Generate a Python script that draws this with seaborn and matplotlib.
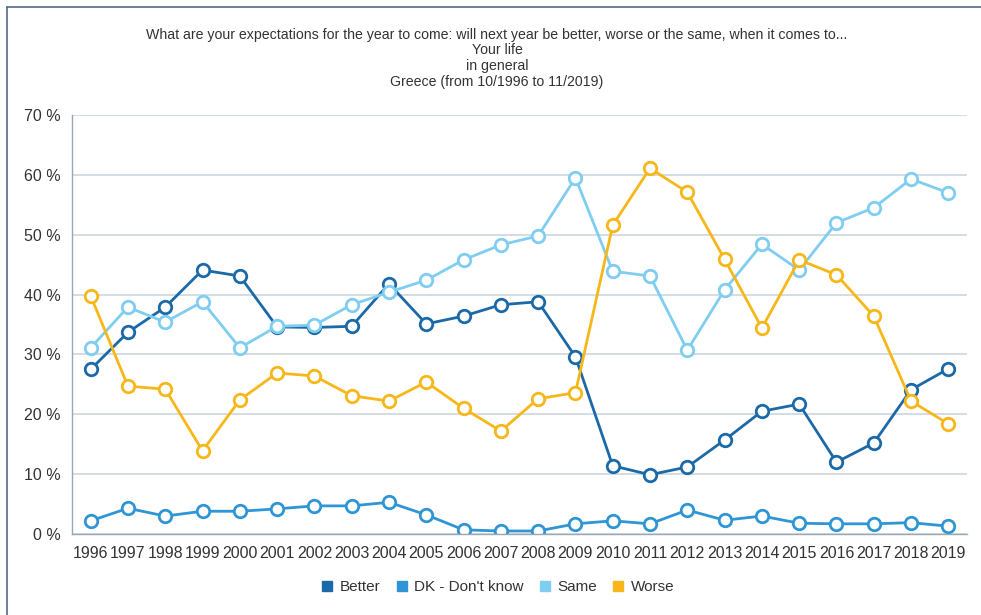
import matplotlib
matplotlib.use("Agg")
import matplotlib.pyplot as plt
from matplotlib.lines import Line2D
import seaborn as sns
import pandas as pd
import numpy as np

years = [str(y) for y in range(1996, 2020)]
better = [27.5, 33.7, 37.9, 44.1, 43.1, 34.6, 34.5, 34.7, 41.8, 35.1, 36.4, 38.3,
          38.8, 29.6, 11.4, 9.9, 11.2, 15.7, 20.5, 21.7, 12.0, 15.2, 24.1, 27.6]
dk = [2.2, 4.3, 3.0, 3.8, 3.8, 4.2, 4.7, 4.7, 5.3, 3.2, 0.7, 0.5,
      0.5, 1.7, 2.2, 1.7, 4.0, 2.3, 3.0, 1.8, 1.7, 1.7, 1.9, 1.3]
same = [31.1, 37.9, 35.4, 38.8, 31.1, 34.7, 34.9, 38.3, 40.4, 42.4, 45.8, 48.3,
        49.8, 59.5, 43.9, 43.1, 30.7, 40.8, 48.4, 44.1, 52.0, 54.5, 59.3, 57.0]
worse = [39.8, 24.7, 24.2, 13.9, 22.4, 26.9, 26.4, 23.1, 22.2, 25.4, 21.0, 17.2,
         22.6, 23.6, 51.6, 61.1, 57.1, 45.9, 34.4, 45.8, 43.3, 36.4, 22.2, 18.4]
series_names = ["Better", "DK - Don't know", "Same", "Worse"]
colors = ["#1b69a6", "#2f95d4", "#7fcdf0", "#f8b719"]
y_ticks = [0, 10, 20, 30, 40, 50, 60, 70]
title_lines = ["What are your expectations for the year to come: will next year be better, worse or the same, when it comes to...",
               "Your life", "in general", "Greece (from 10/1996 to 11/2019)"]

sns.set_theme(style="white")
plt.rcParams['font.family'] = ['Liberation Sans', 'DejaVu Sans']

rows = []
for name, vals in zip(series_names, [better, dk, same, worse]):
    for i, (yr, v) in enumerate(zip(years, vals)):
        rows.append({"pos": i, "year": yr, "value": v, "series": name})
df = pd.DataFrame(rows)

fig = plt.figure(figsize=(9.81, 6.15), dpi=100)
ax = fig.add_axes([72/981, 1-534/615, (967-72)/981, (534-115)/615])

palette = dict(zip(series_names, colors))
sns.lineplot(data=df, x="pos", y="value", hue="series", palette=palette, ax=ax,
             marker="o", markersize=9, markerfacecolor="white", markeredgewidth=2.0,
             linewidth=2.0, legend=False, sort=False)
for line in ax.get_lines():
    line.set_markeredgecolor(line.get_color())

ax.set_xlim(-0.5, len(years) - 0.5)
ax.set_ylim(0, 70)
ax.set_yticks(y_ticks)
ax.set_yticklabels([f"{t} %" for t in y_ticks], fontsize=11.5, color="#333333")
ax.set_xticks(range(len(years)))
ax.set_xticklabels(years, fontsize=11.5, color="#333333")
ax.set_xticks(np.arange(-0.5, len(years), 1.0), minor=True)
ax.tick_params(axis="x", which="major", length=0, pad=9)
ax.tick_params(axis="x", which="minor", length=5, color="#9aa8b4", width=1)
ax.tick_params(axis="y", which="major", length=5, color="#9aa8b4", pad=3)
ax.set_xlabel("")
ax.set_ylabel("")
ax.grid(axis="y", color="#cdd7df", linewidth=1.2)
ax.grid(axis="x", visible=False)
for s in ["top", "right"]:
    ax.spines[s].set_visible(False)
for s in ["left", "bottom"]:
    ax.spines[s].set_color("#9aa8b4")
    ax.spines[s].set_linewidth(1.0)

ys = [35, 50, 66, 82]
for t, yy in zip(title_lines, ys):
    fig.text(497/981, 1 - yy/615, t, ha="center", va="center", fontsize=10.2, color="#333333")

handles = [Line2D([0], [0], marker="s", linestyle="none", markersize=7.5,
                  markerfacecolor=c, markeredgecolor=c) for c in colors]
fig.legend(handles, series_names, loc="center", bbox_to_anchor=(497/981, 1 - 587/615),
           ncol=4, frameon=False, fontsize=11, handletextpad=0.3, columnspacing=0.9,
           handlelength=1.0, labelcolor="#333333")

# frame: top and left edges only
frame_color = "#4f6b85"
fig.add_artist(Line2D([7/981, 1.0], [1 - 7/615, 1 - 7/615], transform=fig.transFigure,
                      color=frame_color, linewidth=1.2))
fig.add_artist(Line2D([7/981, 7/981], [1 - 7/615, 0.0], transform=fig.transFigure,
                      color=frame_color, linewidth=1.2))

fig.savefig("out.png", dpi=100)
